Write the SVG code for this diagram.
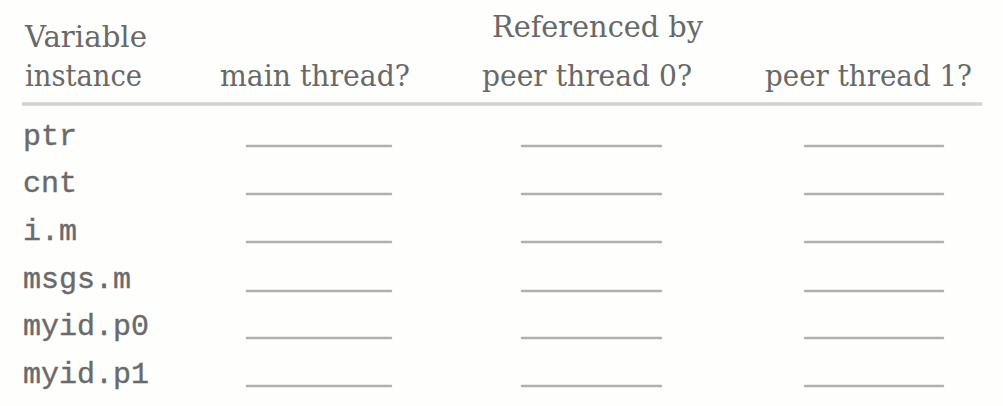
<svg xmlns="http://www.w3.org/2000/svg" width="1003" height="406" viewBox="0 0 1003 406">
<style>
.hd{font-family:"DejaVu Serif","Liberation Serif",serif;font-size:29px;fill:#686868}
.mono{font-family:"Liberation Mono","DejaVu Sans Mono",monospace;font-size:30px;fill:#6a6a6a;stroke:#6a6a6a;stroke-width:0.4}
.blank{stroke:#b0b0b0;stroke-width:2.5;stroke-linecap:round}
.rule{stroke:#d2d2d2;stroke-width:3.5}
</style>
<rect width="1003" height="406" fill="#fefefd"/>
<g id="header">
<text class="hd" x="25" y="47" textLength="122" lengthAdjust="spacingAndGlyphs">Variable</text>
<text class="hd" x="25" y="86" textLength="117" lengthAdjust="spacingAndGlyphs">instance</text>
<text class="hd" x="492" y="37" textLength="211" lengthAdjust="spacingAndGlyphs">Referenced by</text>
<text class="hd" x="220" y="86" textLength="190" lengthAdjust="spacingAndGlyphs">main thread?</text>
<text class="hd" x="482" y="86" textLength="210" lengthAdjust="spacingAndGlyphs">peer thread 0?</text>
<text class="hd" x="765" y="86" textLength="207" lengthAdjust="spacingAndGlyphs">peer thread 1?</text>
<line class="rule" x1="22" y1="104" x2="982" y2="104"/>
</g>
<g id="rows">
<text class="mono" x="23" y="145">ptr</text>
<text class="mono" x="23" y="192">cnt</text>
<text class="mono" x="23" y="240">i.m</text>
<text class="mono" x="23" y="288">msgs.m</text>
<text class="mono" x="23" y="335">myid.p0</text>
<text class="mono" x="23" y="383">myid.p1</text>
</g>
<g id="blanks">
<line class="blank" x1="247" y1="146" x2="391" y2="146"/>
<line class="blank" x1="522" y1="146" x2="661" y2="146"/>
<line class="blank" x1="805" y1="146" x2="943" y2="146"/>
<line class="blank" x1="247" y1="194" x2="391" y2="194"/>
<line class="blank" x1="522" y1="194" x2="661" y2="194"/>
<line class="blank" x1="805" y1="194" x2="943" y2="194"/>
<line class="blank" x1="247" y1="242" x2="391" y2="242"/>
<line class="blank" x1="522" y1="242" x2="661" y2="242"/>
<line class="blank" x1="805" y1="242" x2="943" y2="242"/>
<line class="blank" x1="247" y1="291" x2="391" y2="291"/>
<line class="blank" x1="522" y1="291" x2="661" y2="291"/>
<line class="blank" x1="805" y1="291" x2="943" y2="291"/>
<line class="blank" x1="247" y1="338" x2="391" y2="338"/>
<line class="blank" x1="522" y1="338" x2="661" y2="338"/>
<line class="blank" x1="805" y1="338" x2="943" y2="338"/>
<line class="blank" x1="247" y1="386" x2="391" y2="386"/>
<line class="blank" x1="522" y1="386" x2="661" y2="386"/>
<line class="blank" x1="805" y1="386" x2="943" y2="386"/>
</g>
</svg>
